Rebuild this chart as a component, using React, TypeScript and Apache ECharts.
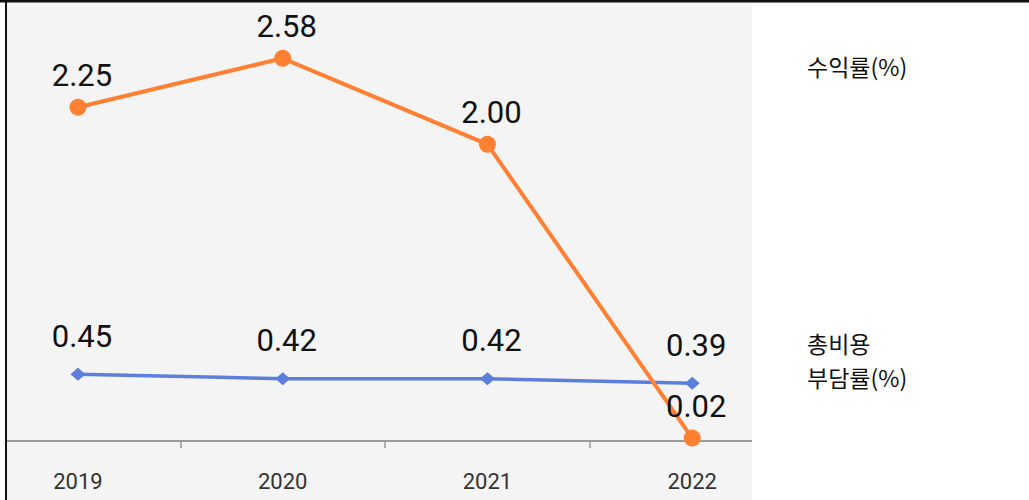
import React, { useEffect, useRef } from "react";
import * as echarts from "echarts";

const years = ["2019", "2020", "2021", "2022"];
const returnRate = [2.25, 2.58, 2.0, 0.02];
const costRate = [0.45, 0.42, 0.42, 0.39];
const legendReturn = "수익률(%)";
const legendCostLines = ["총비용", "부담률(%)"];

const ORANGE = "#FF8033";
const BLUE = "#5B7FDB";
const OX = 25; // the chart div starts 25px left of the page
const OY = 10; // and 10px above it

export default function App() {
  const ref = useRef<HTMLDivElement>(null);
  useEffect(() => {
    const chart = echarts.init(ref.current!, null, { renderer: "svg" });
    chart.setOption({
      animation: false,
      backgroundColor: "#ffffff",
      grid: { left: 0.6, right: 234.4, top: OY - 4, bottom: 59, containLabel: false },
      xAxis: {
        type: "category",
        data: years,
        boundaryGap: true,
        axisLine: { show: true, lineStyle: { color: "#9a9a9a", width: 2 } },
        axisTick: { show: true, length: 7, lineStyle: { color: "#9a9a9a", width: 1.5 } },
        axisLabel: { fontFamily: "Roboto", fontSize: 22, color: "#333", margin: 29 },
        splitLine: { show: false },
      },
      yAxis: { type: "value", min: 0, max: 3, show: false, splitLine: { show: false } },
      graphic: [
        { type: "rect", z: -10, silent: true, shape: { x: OX + 7, y: OY + 2, width: 745, height: 498 }, style: { fill: "#f4f4f4" } },
        { type: "rect", z: 100, silent: true, shape: { x: OX + 752, y: OY + 2, width: 300, height: 498 }, style: { fill: "#ffffff" } },
        { type: "rect", z: 100, silent: true, shape: { x: 0, y: 0, width: OX + 5, height: 520 }, style: { fill: "#ffffff" } },
        { type: "rect", z: 100, silent: true, shape: { x: 0, y: 0, width: 1100, height: OY }, style: { fill: "#ffffff" } },
        { type: "rect", z: 101, silent: true, shape: { x: OX + 5, y: OY, width: 2, height: 500 }, style: { fill: "#111111" } },
        { type: "rect", z: 101, silent: true, shape: { x: 0, y: OY, width: 1100, height: 2.5 }, style: { fill: "#111111" } },
        {
          type: "text", z: 102, x: OX + 807, y: OY + 66,
          style: { text: legendReturn, fontFamily: "Noto Sans CJK KR", fontSize: 23, fill: "#111", textVerticalAlign: "middle" },
        },
        {
          type: "text", z: 102, x: OX + 807, y: OY + 343,
          style: { text: legendCostLines[0], fontFamily: "Noto Sans CJK KR", fontSize: 23, fill: "#111", textVerticalAlign: "middle" },
        },
        {
          type: "text", z: 102, x: OX + 807, y: OY + 377,
          style: { text: legendCostLines[1], fontFamily: "Noto Sans CJK KR", fontSize: 23, fill: "#111", textVerticalAlign: "middle" },
        },
      ],
      series: [
        {
          name: "수익률(%)",
          type: "line",
          data: returnRate,
          symbol: "circle",
          symbolSize: 17,
          lineStyle: { color: ORANGE, width: 4 },
          itemStyle: { color: ORANGE },
          z: 3,
          label: {
            show: true,
            position: "top",
            distance: 8,
            offset: [4, 0],
            fontFamily: "Roboto",
            fontSize: 31,
            color: "#111",
            formatter: (p: any) => Number(p.value).toFixed(2),
          },
        },
        {
          name: "총비용 부담률(%)",
          type: "line",
          data: costRate,
          symbol: "diamond",
          symbolSize: [15, 13],
          lineStyle: { color: BLUE, width: 3.5 },
          itemStyle: { color: BLUE },
          z: 2,
          label: {
            show: true,
            position: "top",
            distance: 16,
            offset: [4, 0],
            fontFamily: "Roboto",
            fontSize: 31,
            color: "#111",
            formatter: (p: any) => Number(p.value).toFixed(2),
          },
        },
      ],
    });
    return () => chart.dispose();
  }, []);
  return (
    <div
      ref={ref}
      style={{ position: "fixed", left: -OX, top: -OY, width: 1029 + OX, height: 500 + OY }}
    />
  );
}
